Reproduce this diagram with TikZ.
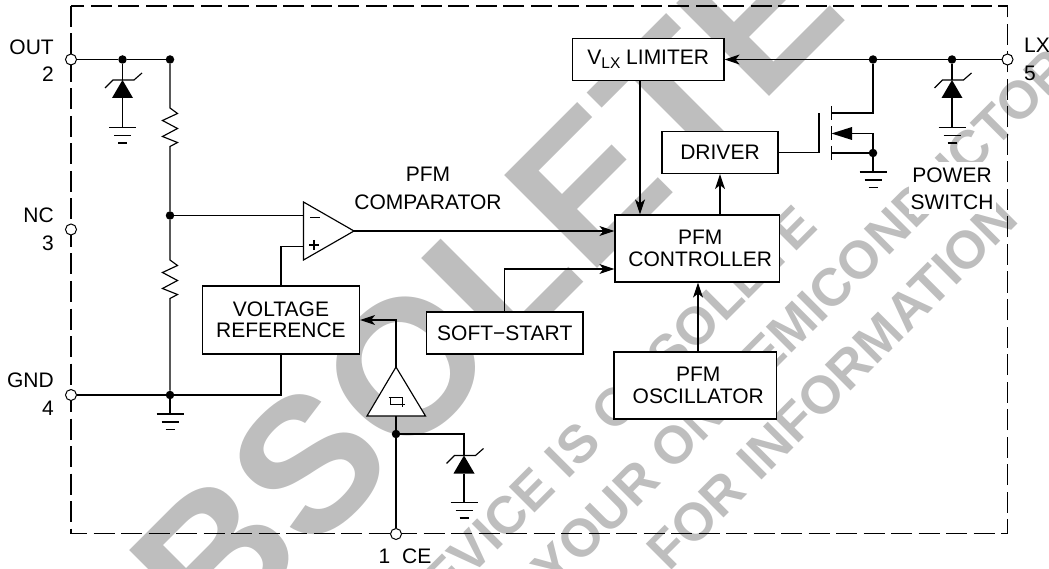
\documentclass[tikz,border=0pt]{standalone}
\usepackage{fontspec}
\setmainfont{Liberation Sans}
\usetikzlibrary{arrows.meta}
\definecolor{wm}{HTML}{BEBEBE}
\tikzset{
  x=1pt,y=-1pt,
  wire/.style={line width=1.15pt,line join=miter},
  arrowed/.style={wire,-{Stealth[length=15pt,width=10pt,inset=4pt]}},
  blockbox/.style={draw,line width=1.2pt,fill=white,inner sep=0pt,align=center,font=\fontsize{21}{21.5}\selectfont},
  lab/.style={inner sep=0pt,align=center,font=\fontsize{21}{21.5}\selectfont},
  junction/.style={circle,fill=black,inner sep=0pt,minimum size=8.5pt},
  terminal/.style={circle,draw,fill=white,line width=1pt,inner sep=0pt,minimum size=11pt},
  wmbig/.style={text=wm,inner sep=0pt,rotate=45,font=\fontsize{191}{191}\selectfont\bfseries},
  wmsmall/.style={text=wm,inner sep=0pt,rotate=45,anchor=base east,font=\fontsize{53}{53}\selectfont\bfseries},
  earth/.pic={
    \draw[wire] (-13.5,0) -- (13.5,0) (-8.5,8) -- (8.5,8) (-4.5,15.5) -- (4.5,15.5);
    \coordinate (-g) at (0,0);
  },
  zener/.pic={
    \fill (0,0) -- (10.5,18) -- (-10.5,18) -- cycle;
    \draw[wire] (-17.5,8) -- (-9.5,0) -- (11.5,0) -- (19.5,-7);
    \coordinate (-a) at (0,0);
    \coordinate (-b) at (0,18);
  }
}
\begin{document}
\begin{tikzpicture}
\useasboundingbox (0,0) rectangle (1049,569);
% watermark
\begin{scope}
\clip (0,0) rectangle (1049,569);
\node[wmbig] (wmA) at (433,340) {OBSOLETE};
\node[wmsmall] (wmB) at (820,228) {DEVICE IS OBSOLETE};
\node[wmsmall] (wmC) at (1074,71) {YOUR ON SEMICONDUCTOR};
\node[wmsmall] (wmD) at (1021,221) {FOR INFORMATION};
\end{scope}
\fill[white] (909,162) rectangle (996,214);
% package outline
\draw[line width=1.1pt,dash pattern=on 21pt off 6.5pt] (71,6) rectangle (1007.5,533.5);

% blocks
\node[blockbox,minimum width=151.5pt,minimum height=42pt] (lim) at (648.25,59.5) {V\raisebox{-4.5pt}{\fontsize{15.5}{15}\selectfont LX} LIMITER};
\node[blockbox,minimum width=116pt,minimum height=42pt] (drv) at (720,152.5) {DRIVER};
\node[blockbox,minimum width=164.5pt,minimum height=67pt] (ctl) at (697.25,248.5) {\hspace*{6pt}PFM\\\hspace*{6pt}CONTROLLER};
\node[blockbox,minimum width=162.5pt,minimum height=67pt] (osc) at (695.25,385.5) {\hspace*{6pt}PFM\\\hspace*{6pt}OSCILLATOR};
\node[blockbox,minimum width=157pt,minimum height=68pt] (vref) at (281,320) {VOLTAGE\\REFERENCE};
\node[blockbox,minimum width=156.5pt,minimum height=42pt] (soft) at (504.75,333) {SOFT−START};

% terminals and junctions
\node[junction] (j1) at (122.5,59.5) {};
\node[junction] (j2) at (170,59.5) {};
\node[junction] (j3) at (170,215.5) {};
\node[junction] (j4) at (170,395) {};
\node[junction] (j5) at (873,59.5) {};
\node[junction] (j6) at (952,59.5) {};
\node[junction] (j7) at (873,153) {};
\node[junction] (j8) at (396,434) {};

% symbols
\pic (z1) at (122.5,80) {zener};
\pic (z2) at (952,80) {zener};
\pic (z3) at (464,455.5) {zener};
\pic (e1) at (122.5,127.5) {earth};
\pic (e2) at (952,127.5) {earth};
\pic (e3) at (464,502.5) {earth};
\pic (e4) at (170,414) {earth};
\pic (e5) at (873,172) {earth};

% resistors
\coordinate (r1a) at (170,108);
\coordinate (r1b) at (170,146.5);
\coordinate (r2a) at (170,260);
\coordinate (r2b) at (170,298.5);
\draw[wire] (j2) -- (r1a) -- ++(7.5,5.5) -- ++(-15,7) -- ++(15,8) -- ++(-15,8) -- ++(15,6) -- (r1b) -- (j3);
\draw[wire] (j3) -- (r2a) -- ++(7.5,5.5) -- ++(-15,7) -- ++(15,8) -- ++(-15,8) -- ++(15,6) -- (r2b) -- (j4);

% op amp
\coordinate (opA) at (303.5,202);
\coordinate (opB) at (303.5,260);
\coordinate (opo) at (354,231);
\coordinate (opm) at (303.5,215.5);
\coordinate (opp) at (303.5,246.5);
\draw[wire,fill=white] (opA) -- (opo) -- (opB) -- cycle;
\draw[wire] (310,217.5) -- (320,217.5);
\draw[wire] (309,245) -- (319,245) (314,240) -- (314,250);

% Schmitt buffer
\coordinate (smA) at (396,367);
\coordinate (smB) at (425.5,416);
\coordinate (smC) at (367,416);
\coordinate (smb) at (396,416);
\draw[wire,fill=white] (smA) -- (smB) -- (smC) -- cycle;
\draw[line width=0.9pt] (388.5,397) -- (402,397) -- (402,406.5) (390.4,397) -- (390.4,404) -- (404.5,404);

% MOSFET
\coordinate (gt) at (819,113.5);
\coordinate (gb) at (819,152.5);
\coordinate (dr) at (831.5,113);
\coordinate (st) at (831.5,133.5);
\coordinate (sr) at (831.5,153);
\draw[wire] (831.5,106) -- (831.5,120) (831.5,126.5) -- (831.5,140.5) (831.5,146) -- (831.5,160);
\draw[wire] (gt) -- (gb) -- (drv.east |- gb);
\draw[wire] (dr) -- (j5 |- dr) -- (j5);
\draw[wire] (sr) -- (j7);
\draw[wire] (j7) -- (j7 |- st) -- (852,133.5);
\fill (st) -- (852,127) -- (852,140) -- cycle;
\draw[wire] (j7) -- (e5-g);

% wires
\node[terminal] (out) at (71,59.5) {};
\node[terminal] (nc) at (71,229.5) {};
\node[terminal] (gnd) at (71,395) {};
\node[terminal] (lx) at (1007.5,59.5) {};
\node[terminal] (ce) at (396,534) {};
\draw[wire] (out) -- (j1) -- (j2);
\draw[wire] (j1) -- (z1-a) (z1-b) -- (e1-g);
\draw[wire] (j6) -- (z2-a) (z2-b) -- (e2-g);
\draw[wire] (j8) -| (z3-a) (z3-b) -- (e3-g);
\draw[wire] (j4) -- (e4-g);
\draw[wire] (j3) -- (opm);
\draw[wire] (opp) -| (vref.north);
\draw[wire] (gnd) -- (j4) -| (vref.south);
\draw[arrowed] (opo) -- (ctl.west |- opo);
\draw[arrowed] (soft.north) |- (ctl.west |- 0,269);
\draw[arrowed] (lx) -- (j6) -- (j5) -- (lim.east);
\draw[arrowed] (lim.south -| 640,0) -- (ctl.north -| 640,0);
\draw[arrowed] (ctl.north -| drv.south) -- (drv.south);
\draw[arrowed] (osc.north -| 698,0) -- (ctl.south -| 698,0);
\draw[arrowed] (smA) |- (vref.east);
\draw[wire] (smb) -- (j8) -- (ce);

% labels
\node[lab,anchor=east] (tOUT) at (54,47) {OUT};
\node[lab,anchor=east] (t2) at (54,74) {2};
\node[lab,anchor=east] (tNC) at (54,215) {NC};
\node[lab,anchor=east] (t3) at (54,243) {3};
\node[lab,anchor=east] (tGND) at (54,380) {GND};
\node[lab,anchor=east] (t4) at (54,408) {4};
\node[lab,anchor=west] (tLX) at (1024,45) {LX};
\node[lab,anchor=west] (t5) at (1024,73) {5};
\node[lab] (tCE) at (405,556) {1\hspace{12pt}CE};
\node[lab] (tPFM) at (428,174) {PFM};
\node[lab] (tCMP) at (428,202) {COMPARATOR};
\node[lab] (tPOW) at (952,175) {POWER};
\node[lab] (tSW) at (952,202) {SWITCH};
\end{tikzpicture}
\end{document}
